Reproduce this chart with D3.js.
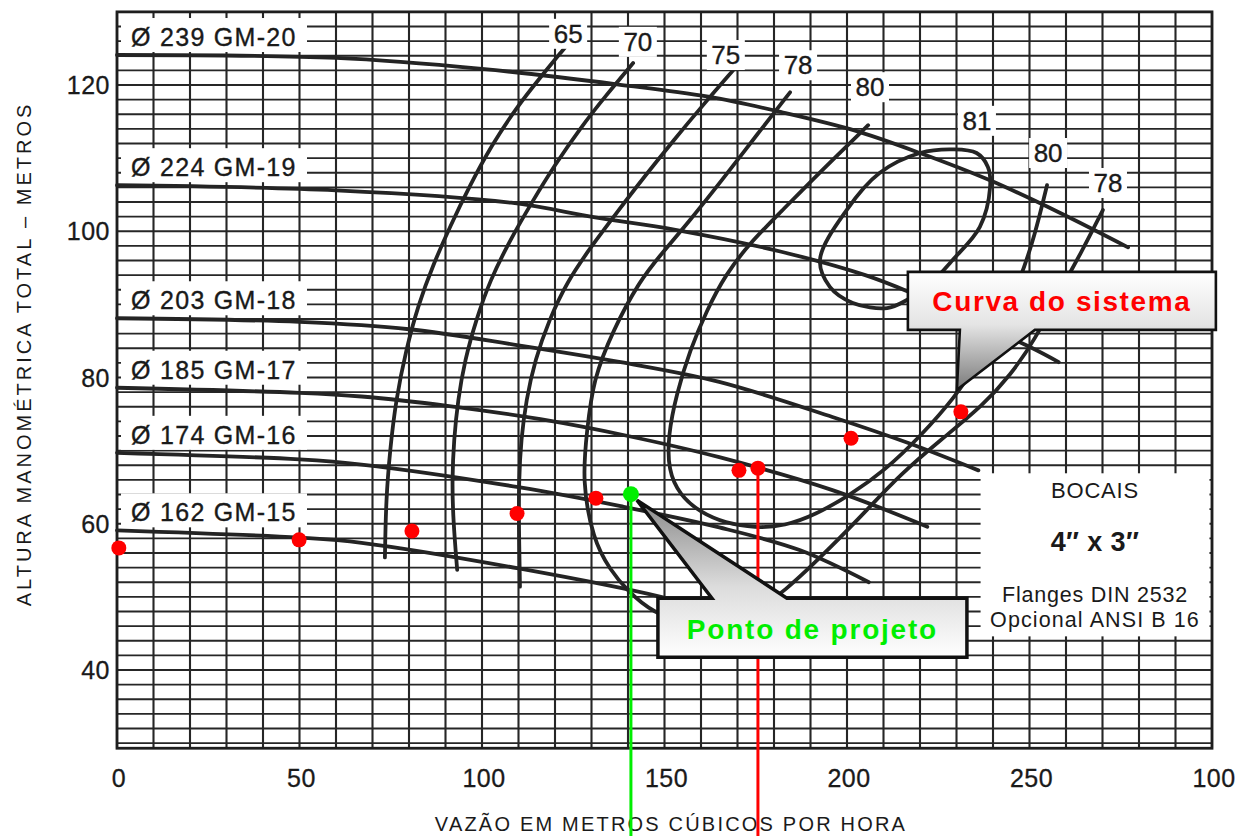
<!DOCTYPE html>
<html><head><meta charset="utf-8">
<script src="https://cdn.jsdelivr.net/npm/d3@7"></script>
<style>body{margin:0;background:#fff}svg{display:block}</style>
</head><body><svg id="c" width="1244" height="836"></svg>
<script>
// ---------- DATA ----------
const xTicks = [0, 50, 100, 150, 200, 250, 300];
const xTickLabels = ["0", "50", "100", "150", "200", "250", "100"];
const yTicks = [40, 60, 80, 100, 120];
const yTickLabels = ["40", "60", "80", "100", "120"];

// impeller head curves (Q m3/h, H m)
const impellerNames = ["Ø 239 GM-20", "Ø 224 GM-19", "Ø 203 GM-18", "Ø 185 GM-17", "Ø 174 GM-16", "Ø 162 GM-15"];
const gm20 = [[0,124.1],[60,123.7],[100,122.2],[137,120.1],[162,118.4],[182,116.3],[202,113.8],[220,110.7],[239,107],[258,102.6],[277,97.8]];
const gm19 = [[0,106.3],[60,105.6],[108,103.9],[131,101.9],[153,100.2],[182,97.2],[205,94],[217,91.7],[250,84.2],[258,82.1]];
const gm18 = [[0,88.1],[50,87.6],[80,86.6],[110,84.4],[138,82.1],[165,79.4],[196,74.6],[217,71],[236,67.3]];
const gm17 = [[0,78.6],[50,77.9],[67,77.4],[91,76.1],[116,74.3],[140,72],[165,69.1],[196,64.6],[222,59.6]];
const gm16 = [[0,69.7],[50,68.8],[67,68.1],[110,65],[138,62.4],[165,59.5],[187,56.4],[206,52]];
const gm15 = [[0,59.1],[50,58.1],[67,57.4],[110,53.9],[149,50],[176,46.1],[198,43]];

// iso-efficiency curves (%)
const eff65 = [[122.7,125.1],[115.9,121],[109,116.6],[102.7,111.8],[96.7,106.3],[91.2,100.6],[86.6,95.4],[82.5,89.9],[79.2,83.8],[76.4,76.9],[74.8,70.1],[73.7,63.3],[73.4,55.4]];
const eff70 = [[141.4,123],[134,118.6],[126.9,114.1],[120,109.1],[113.7,104],[107.7,98.8],[102.2,93.3],[98.4,87.9],[95.3,82.4],[93.4,76.9],[92.3,71.5],[91.8,66],[92.1,60.5],[93.2,53.7]];
const eff75 = [[168.8,122],[160.6,117.3],[152.6,112.5],[144.7,107.6],[137,102.6],[129.9,97.9],[123.3,93.1],[118.4,87.9],[114.5,82.4],[112.1,76.9],[110.7,71.5],[110.1,66],[110.1,59.2],[110.4,51.4]];
const eff78 = [[184.4,119],[175.3,113.2],[165.8,107],[157,101.5],[148.8,96.7],[143.3,93.3],[135.9,86.5],[130.4,79.6],[128.8,72.8],[127.4,66],[130.4,57.8],[135.1,53.7],[139.7,50.9],[146.8,47.8],[157,46.1],[165.2,45.9],[173.4,47.5],[182.5,50.5],[196.2,57.1],[205.5,61.9],[214.5,66.7],[225.5,71.4],[237.3,76.2],[244.7,80.3],[251.5,85.1],[258.4,92],[263.8,96.7],[270.1,102.9]];
const eff80 = [[205.8,114.5],[192.6,108.1],[181.6,102.5],[173.4,98.4],[166.6,94],[161.6,89.2],[157,83.8],[153.2,77.6],[151,72.1],[151,67.3],[154.2,63.9],[159.7,61.6],[166.6,60.1],[174.8,59.4],[183,59.7],[191.2,61.2],[200.8,63.9],[210.4,67.3],[220,71.9],[229.6,77.3],[236.4,82.4],[241.9,87.2],[247.4,93.3],[251.5,99.5],[254.8,106.3]];
const eff81 = [[192.6,96.1],[199.9,102.9],[209,108],[220,110.7],[229,111.2],[235.5,110.7],[238.6,108.8],[239.2,106],[236.4,100.6],[229,96.1],[221.9,92.4],[216.4,90.6],[211,89.5],[201.6,90.2],[195.3,92.4]];
const effLabelText = ["65", "70", "75", "78", "80", "81", "80", "78"];
const effLabelQ = [123.6, 142.7, 166.8, 186.6, 206.3, 235.6, 255.1, 271.5];
const effLabelH = [127.0, 125.9, 124.1, 122.7, 119.7, 115.1, 110.7, 106.6];

// system curve points
const sysQ = [0.5, 49.9, 80.8, 109.6, 131.2, 170.4, 175.6, 201.1, 231.2];
const sysH = [56.7, 57.8, 59.0, 61.4, 63.5, 67.3, 67.6, 71.7, 75.3];
const designQ = 140.8, designH = 64.05;
const operQ = 175.6, operH = 67.6;

const infoLines = ["BOCAIS", "4\u2033 x 3\u2033", "Flanges DIN 2532", "Opcional ANSI B 16"];

// ---------- SCALES ----------
const svg = d3.select("#c");
const x = d3.scaleLinear().domain([0, 300]).range([117, 1212]);
const y = d3.scaleLinear().domain([40, 120]).range([670, 85]);
const yBot = 29.3, yTop = 130;
const FONT = "'Liberation Sans', Arial, Helvetica, sans-serif";
const ink = "#242424";
const txt = "#1a1a1a";

const defs = svg.append("defs");
const g1 = defs.append("linearGradient").attr("id","gSys").attr("x1",0).attr("y1",0).attr("x2",0).attr("y2",1);
g1.append("stop").attr("offset","0%").attr("stop-color","#ffffff");
g1.append("stop").attr("offset","45%").attr("stop-color","#e4e4e4");
g1.append("stop").attr("offset","100%").attr("stop-color","#7a7a7a");
const g2 = defs.append("linearGradient").attr("id","gPt").attr("x1",0).attr("y1",0).attr("x2",0).attr("y2",1);
g2.append("stop").attr("offset","0%").attr("stop-color","#8a8a8a");
g2.append("stop").attr("offset","55%").attr("stop-color","#dcdcdc");
g2.append("stop").attr("offset","100%").attr("stop-color","#ffffff");

// ---------- GRID ----------
const grid = svg.append("g").attr("stroke", "#262626");
grid.selectAll("line.v").data(d3.range(0, 301, 10)).join("line").attr("stroke-width", 2.1)
  .attr("x1", d => x(d)).attr("x2", d => x(d)).attr("y1", y(yTop)).attr("y2", y(yBot));
grid.selectAll("line.h").data(d3.range(30, 131, 2)).join("line").attr("stroke-width", 1.8)
  .attr("x1", x(0)).attr("x2", x(300)).attr("y1", d => y(d)).attr("y2", d => y(d));
svg.append("rect").attr("x", x(0)).attr("y", y(yTop)).attr("width", x(300) - x(0)).attr("height", y(yBot) - y(yTop))
  .attr("fill", "none").attr("stroke", "#1e1e1e").attr("stroke-width", 2.8);

// ---------- CURVES ----------
const line = d3.line().x(d => x(d[0])).y(d => y(d[1])).curve(d3.curveCatmullRom.alpha(0.5));
const smooth = d3.line().x(d => x(d[0])).y(d => y(d[1])).curve(d3.curveBasis);
const lineClosed = d3.line().x(d => x(d[0])).y(d => y(d[1])).curve(d3.curveCatmullRomClosed.alpha(0.5));
const curves = svg.append("g").attr("fill", "none").attr("stroke", ink).attr("stroke-width", 3.8)
  .attr("stroke-linecap", "round").attr("stroke-linejoin", "round");
const impellers = [gm20, gm19, gm18, gm17, gm16, gm15];
impellers.forEach(c => curves.append("path").attr("d", line(c)));
[eff65, eff70, eff75, eff78, eff80].forEach(c => curves.append("path").attr("d", smooth(c)));
curves.append("path").attr("d", lineClosed(eff81));

// ---------- LABELS ----------
const labG = svg.append("g");
impellers.forEach((c, i) => {
  const base = y(c[0][1]) - 9;
  labG.append("rect").attr("x", x(0) + 4).attr("y", base - 28).attr("width", 186).attr("height", 34).attr("fill", "#fff");
  labG.append("text").attr("x", x(0) + 14).attr("y", base).text(impellerNames[i])
    .attr("font-family", FONT).attr("font-size", 25).attr("letter-spacing", 1.3).attr("fill", txt)
    .attr("stroke", txt).attr("stroke-width", 0.35);
});
effLabelText.forEach((t, i) => {
  const cx = x(effLabelQ[i]), cy = y(effLabelH[i]);
  labG.append("rect").attr("x", cx - 19).attr("y", cy - 15).attr("width", 38).attr("height", 30).attr("fill", "#fff");
  labG.append("text").attr("x", cx).attr("y", cy + 9).attr("text-anchor", "middle").text(t)
    .attr("font-family", FONT).attr("font-size", 26).attr("fill", txt).attr("stroke", txt).attr("stroke-width", 0.35);
});

// info box
const bx0 = x(236.6), bx1 = x(299.3), by0 = y(66.9), by1 = y(44.6);
svg.append("rect").attr("x", bx0).attr("y", by0).attr("width", bx1 - bx0).attr("height", by1 - by0).attr("fill", "#fff");
const bcx = (bx0 + bx1) / 2;
const infoDy = [25, 78, 129, 154], infoSize = [22, 27, 21.5, 21.5], infoW = [400, 700, 400, 400], infoLs = [0.8, 0.4, 0.8, 1.1];
infoLines.forEach((t, i) => {
  svg.append("text").attr("x", bcx).attr("y", by0 + infoDy[i]).attr("text-anchor", "middle").text(t)
    .attr("font-family", FONT).attr("font-size", infoSize[i]).attr("font-weight", infoW[i])
    .attr("letter-spacing", infoLs[i]).attr("fill", txt);
});

// ---------- AXES TEXT ----------
xTicks.forEach((t, i) => {
  svg.append("text").attr("x", x(t) + 2).attr("y", 787).attr("text-anchor", "middle").text(xTickLabels[i])
    .attr("font-family", FONT).attr("font-size", 25).attr("letter-spacing", 0.5).attr("fill", txt).attr("stroke", txt).attr("stroke-width", 0.3);
});
yTicks.forEach((t, i) => {
  svg.append("text").attr("x", 110).attr("y", y(t) + 9).attr("text-anchor", "end").text(yTickLabels[i])
    .attr("font-family", FONT).attr("font-size", 25).attr("letter-spacing", 0.5).attr("fill", txt).attr("stroke", txt).attr("stroke-width", 0.3);
});
svg.append("text").attr("x", 671).attr("y", 831).attr("text-anchor", "middle").text("VAZÃO EM METROS CÚBICOS POR HORA")
  .attr("font-family", FONT).attr("font-size", 20).attr("letter-spacing", 2.2).attr("fill", txt);
svg.append("text").attr("transform", "translate(31,354) rotate(-90)").attr("text-anchor", "middle")
  .text("ALTURA MANOMÉTRICA TOTAL – METROS")
  .attr("font-family", FONT).attr("font-size", 20).attr("letter-spacing", 3).attr("fill", txt);

// ---------- SYSTEM CURVE, DESIGN POINT ----------
svg.append("line").attr("x1", x(operQ)).attr("x2", x(operQ)).attr("y1", y(operH)).attr("y2", 836)
  .attr("stroke", "#ff0000").attr("stroke-width", 3);
svg.append("line").attr("x1", x(designQ)).attr("x2", x(designQ)).attr("y1", y(designH)).attr("y2", 836)
  .attr("stroke", "#00ee00").attr("stroke-width", 3);
svg.selectAll("circle.s").data(sysQ.map((q, i) => [q, sysH[i]])).join("circle")
  .attr("cx", d => x(d[0])).attr("cy", d => y(d[1])).attr("r", 7.5).attr("fill", "#ff0000");
svg.append("circle").attr("cx", x(designQ)).attr("cy", y(designH)).attr("r", 8).attr("fill", "#00ee00");

// ---------- CALLOUTS ----------
{ // Curva do sistema
  const tx = x(sysQ[sysQ.length - 1]) - 4, ty = y(sysH[sysH.length - 1]) - 22;
  const L = tx - 49, R = tx + 259, T = ty - 118, B = ty - 60;
  const p = `M${L},${T}H${R}V${B}H${tx + 78}L${tx},${ty}L${tx + 3},${B}H${L}Z`;
  svg.append("path").attr("d", p).attr("fill", "url(#gSys)").attr("stroke", "#111").attr("stroke-width", 2.6).attr("stroke-linejoin", "miter");
  svg.append("text").attr("x", (L + R) / 2).attr("y", T + 39).attr("text-anchor", "middle").text("Curva do sistema")
    .attr("font-family", FONT).attr("font-weight", 700).attr("font-size", 28).attr("letter-spacing", 1.6).attr("fill", "#ff0000");
}
{ // Ponto de projeto
  const tx = x(designQ) + 6, ty = y(designH) + 6;
  const L = tx + 21, R = tx + 330, T = ty + 98, B = ty + 157;
  const p = `M${L},${T}H${tx + 75}L${tx},${ty}L${tx + 150},${T}H${R}V${B}H${L}Z`;
  svg.append("path").attr("d", p).attr("fill", "url(#gPt)").attr("stroke", "#111").attr("stroke-width", 3.5).attr("stroke-linejoin", "miter");
  svg.append("text").attr("x", (L + R) / 2).attr("y", T + 41).attr("text-anchor", "middle").text("Ponto de projeto")
    .attr("font-family", FONT).attr("font-weight", 700).attr("font-size", 28).attr("letter-spacing", 1.8).attr("fill", "#00ee00");
}
</script></body></html>
